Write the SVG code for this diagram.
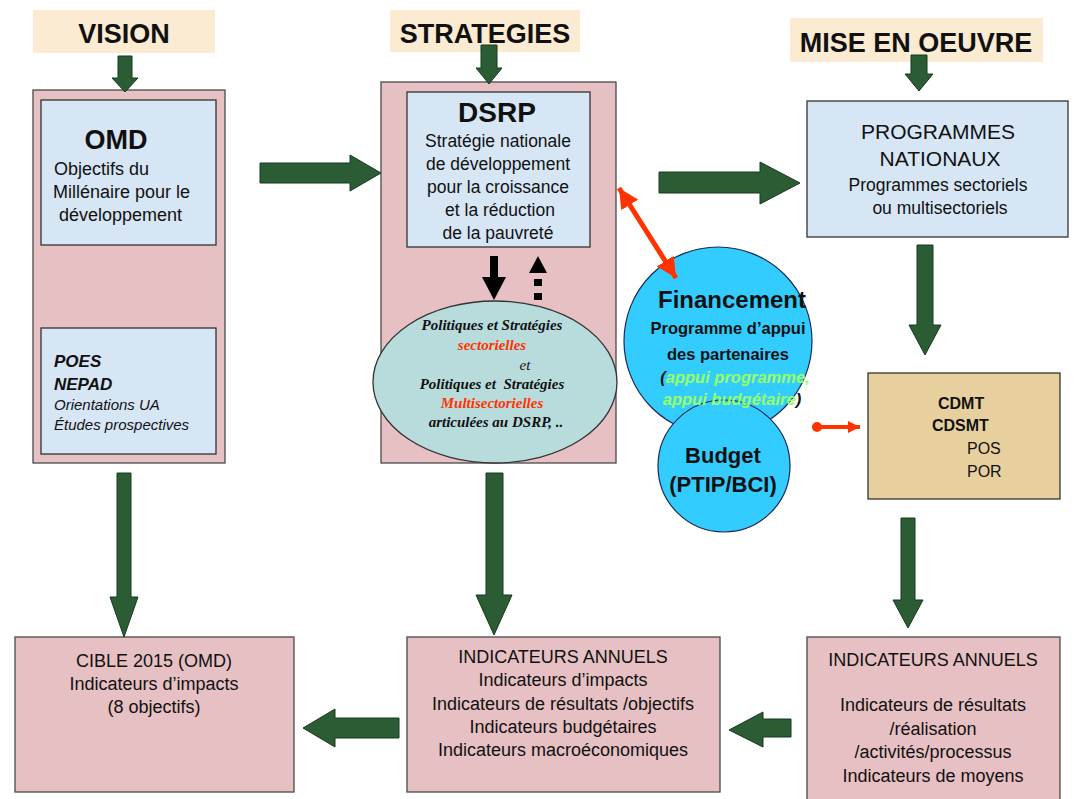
<svg xmlns="http://www.w3.org/2000/svg" width="1074" height="799" viewBox="0 0 1074 799">
<style>
text{font-family:"Liberation Sans",Arial,sans-serif;fill:#111}
.hdr{fill:#fbebd2}
.hdrt{font-size:27px;font-weight:bold;text-anchor:middle}
.pink{fill:#e6c0c3;stroke:#4a4a4a;stroke-width:1.3}
.blue{fill:#d6e6f5;stroke:#333;stroke-width:1.3}
.tan{fill:#e8d09e;stroke:#333;stroke-width:1.3}
.circ{fill:#33ccff;stroke:#1a2a55;stroke-width:1.2}
.ell{fill:#b8dcdc;stroke:#333;stroke-width:1.3}
.g{fill:#2b5c34;stroke:#173a1f;stroke-width:1}
.c{text-anchor:middle}
.t18{font-size:18px}
.t17{font-size:17.5px}
.ser{font-family:"Liberation Serif","Times New Roman",serif;font-size:15px;font-weight:bold;font-style:italic;text-anchor:middle}
.red{fill:#ff3300}
.grn{fill:#99ff66}
</style>
<defs>
<marker id="rh" markerUnits="userSpaceOnUse" markerWidth="22" markerHeight="20" refX="20" refY="10" orient="auto-start-reverse">
<path d="M0,0 L20,10 L0,20 Z" fill="#ff3300"/>
</marker>
<marker id="rh2" markerUnits="userSpaceOnUse" markerWidth="14" markerHeight="12" refX="12" refY="6" orient="auto">
<path d="M0,0 L12,6 L0,12 Z" fill="#ff3300"/>
</marker>
</defs>
<rect width="1074" height="799" fill="#fff"/>

<g id="hdr-vision"><rect class="hdr" x="33" y="10" width="182" height="43"/><text class="hdrt" x="124" y="43">VISION</text></g>
<g id="hdr-strategies"><rect class="hdr" x="390" y="10" width="190" height="42"/><text class="hdrt" x="485" y="43">STRATEGIES</text></g>
<g id="hdr-mise"><rect class="hdr" x="790" y="18" width="253" height="44"/><text class="hdrt" x="916" y="52">MISE EN OEUVRE</text></g>

<g id="vision">
<rect class="pink" x="33" y="90" width="192" height="373"/>
<g id="omd">
<rect class="blue" x="41" y="100" width="175" height="145"/>
<text x="116" y="149" class="c" style="font-size:27px;font-weight:bold">OMD</text>
<text x="54" y="175" class="t18">Objectifs du</text>
<text x="53" y="198" class="t18">Millénaire pour le</text>
<text x="59" y="221" class="t18">développement</text>
</g>
<g id="poes">
<rect class="blue" x="41" y="328" width="175" height="126"/>
<text x="54" y="367" style="font-size:17px;font-weight:bold;font-style:italic">POES</text>
<text x="54" y="390" style="font-size:17px;font-weight:bold;font-style:italic">NEPAD</text>
<text x="54" y="410" style="font-size:15px;font-style:italic">Orientations UA</text>
<text x="54" y="430" style="font-size:15px;font-style:italic">Études prospectives</text>
</g>
</g>

<g id="strategies">
<rect class="pink" x="381" y="82" width="235" height="381"/>
<g id="dsrp">
<rect class="blue" x="407" y="92" width="183" height="155"/>
<text x="497" y="122" class="c" style="font-size:28px;font-weight:bold">DSRP</text>
<text x="498" y="147" class="c t17">Stratégie nationale</text>
<text x="498" y="170" class="c t17">de développement</text>
<text x="498" y="193" class="c t17">pour la croissance</text>
<text x="500" y="216" class="c t17">et la réduction</text>
<text x="498" y="239" class="c t17">de la pauvreté</text>
</g>
<g id="politiques">
<ellipse class="ell" cx="495" cy="382" rx="122" ry="81"/>
<text x="492" y="330" class="ser">Politiques et Stratégies</text>
<text x="492" y="350" class="ser red">sectorielles</text>
<text x="525" y="370" class="ser" style="font-weight:normal">et</text>
<text x="492" y="389" class="ser" xml:space="preserve">Politiques et  Stratégies</text>
<text x="492" y="408" class="ser red">Multisectorielles</text>
<text x="496" y="427" class="ser">articulées au DSRP, ..</text>
</g>
</g>

<g id="programmes">
<rect class="blue" x="807" y="101" width="261" height="136"/>
<text x="938" y="139" class="c" style="font-size:21px">PROGRAMMES</text>
<text x="940" y="166" class="c" style="font-size:21px">NATIONAUX</text>
<text x="938" y="191" class="c" style="font-size:17.5px">Programmes sectoriels</text>
<text x="940" y="214" class="c" style="font-size:17.5px">ou multisectoriels</text>
</g>

<g id="financement">
<circle class="circ" cx="718" cy="341" r="94"/>
</g>
<g id="budget">
<circle class="circ" cx="724" cy="466" r="66"/>
<text x="723" y="463" class="c" style="font-size:22px;font-weight:bold">Budget</text>
<text x="723" y="492" class="c" style="font-size:22px;font-weight:bold">(PTIP/BCI)</text>
</g>
<g id="financement-text">
<text x="732" y="308" class="c" style="font-size:24px;font-weight:bold">Financement</text>
<text x="728" y="334" class="c" style="font-size:16.5px;font-weight:bold">Programme d’appui</text>
<text x="728" y="360" class="c" style="font-size:16.5px;font-weight:bold">des partenaires</text>
<text x="735" y="383" class="c" style="font-size:16.5px;font-weight:bold;font-style:italic">(<tspan class="grn">appui programme,</tspan></text>
<text x="732" y="405" class="c" style="font-size:16.5px;font-weight:bold;font-style:italic"><tspan class="grn">appui budgétaire</tspan>)</text>
</g>

<g id="cdmt">
<rect class="tan" x="868" y="373" width="192" height="126"/>
<text x="938" y="409" style="font-size:16px;font-weight:bold">CDMT</text>
<text x="932" y="431" style="font-size:16px;font-weight:bold">CDSMT</text>
<text x="967" y="454" style="font-size:16px">POS</text>
<text x="967" y="477" style="font-size:16px">POR</text>
</g>

<g id="cible">
<rect class="pink" x="15" y="637" width="279" height="155"/>
<text x="154" y="667" class="c t18">CIBLE 2015 (OMD)</text>
<text x="154" y="690" class="c t18">Indicateurs d’impacts</text>
<text x="154" y="713" class="c t18">(8 objectifs)</text>
</g>
<g id="indic-mid">
<rect class="pink" x="407" y="637" width="313" height="155"/>
<text x="563" y="663" class="c t18">INDICATEURS ANNUELS</text>
<text x="563" y="686" class="c t18">Indicateurs d’impacts</text>
<text x="563" y="710" class="c t18">Indicateurs de résultats /objectifs</text>
<text x="563" y="733" class="c t18">Indicateurs budgétaires</text>
<text x="563" y="756" class="c t18">Indicateurs macroéconomiques</text>
</g>
<g id="indic-right">
<rect class="pink" x="807" y="637" width="253" height="170"/>
<text x="933" y="666" class="c t18">INDICATEURS ANNUELS</text>
<text x="933" y="711" class="c t18">Indicateurs de résultats</text>
<text x="933" y="735" class="c t18">/réalisation</text>
<text x="933" y="758" class="c t18">/activités/processus</text>
<text x="933" y="782" class="c t18">Indicateurs de moyens</text>
</g>

<g id="connectors">
<polygon class="g" points="118,56 132,56 132,78 138,78 125,92 112,78 118,78"/>
<polygon class="g" points="481,45 497,45 497,68 502,68 489,84 476,68 481,68"/>
<polygon class="g" points="911,55 927,55 927,74 933,74 919,91 905,74 911,74"/>
<polygon class="g" points="260,163 350,163 350,155 381,173 350,191 350,183 260,183"/>
<polygon class="g" points="659,172 760,172 760,162 800,183 760,204 760,193 659,193"/>
<polygon class="g" points="917,245 933,245 933,325 941,325 925,355 909,325 917,325"/>
<polygon class="g" points="901,518 915,518 915,600 923,600 908,628 893,600 901,600"/>
<polygon class="g" points="791,719 791,737 763,737 763,747 729,730 763,712 763,719"/>
<polygon class="g" points="399,718 399,738 335,738 335,747 303,728 335,709 335,718"/>
<polygon class="g" points="117,473 131,473 131,597 138,597 124,637 110,597 117,597"/>
<polygon class="g" points="486,473 503,473 503,595 512,595 494,635 476,595 486,595"/>
<g id="black-arrows">
<rect x="490" y="256" width="8" height="22" fill="#000"/>
<polygon points="482,277 506,277 494,300" fill="#000"/>
<polygon points="529,273 547,273 538,256" fill="#000"/>
<rect x="534" y="279" width="8" height="7" fill="#000"/>
<rect x="534" y="293" width="8" height="7" fill="#000"/>
</g>
<line x1="619" y1="188" x2="676" y2="278" stroke="#ff3300" stroke-width="5" marker-start="url(#rh)" marker-end="url(#rh)"/>
<circle cx="817" cy="427" r="5" fill="#ff3300"/>
<line x1="817" y1="427" x2="860" y2="427" stroke="#ff3300" stroke-width="4" marker-end="url(#rh2)"/>
</g>
</svg>
